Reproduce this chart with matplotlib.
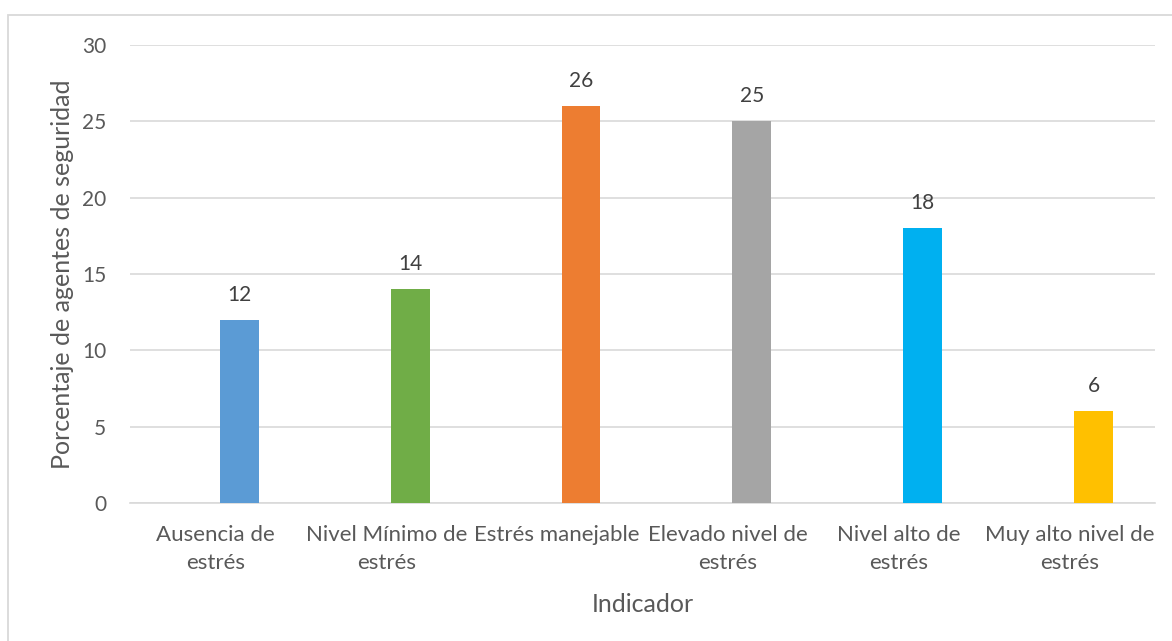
import matplotlib.pyplot as plt
import matplotlib.patches as patches

plt.rcParams['font.family'] = ['Lato', 'DejaVu Sans']

categorias = ['Ausencia de\nestrés', 'Nivel Mínimo de\nestrés', 'Estrés manejable',
              'Elevado nivel de\nestrés', 'Nivel alto de\nestrés', 'Muy alto nivel de\nestrés']
valores = [12, 14, 26, 25, 18, 6]
colores = ['#5B9BD5', '#70AD47', '#ED7D31', '#A5A5A5', '#00B0F0', '#FFC000']
yticks = [0, 5, 10, 15, 20, 25, 30]

texto = '#595959'
rejilla = '#D9D9D9'

fig = plt.figure(figsize=(11.72, 6.41), dpi=100)
ax = fig.add_axes([130 / 1172, 1 - 503 / 641, 1025 / 1172, 458 / 641])

# borde exterior del gráfico
fig.patches.append(patches.Rectangle((8 / 1172, -0.1), 1.2, 1 - 15 / 641 + 0.1,
                                     transform=fig.transFigure, fill=False,
                                     edgecolor='#D9D9D9', linewidth=1.3))

# las barras van algo desplazadas a la derecha del centro de la categoría (como en Excel)
desplazamiento = 0.14
x = list(range(len(categorias)))
xb = [xi + desplazamiento for xi in x]
ax.bar(xb, valores, width=0.228, color=colores, zorder=3)
for xi, v in zip(xb, valores):
    ax.annotate(str(v), (xi, v), xytext=(0, 11), textcoords='offset points',
                ha='center', va='bottom', fontsize=15, color='#404040')

ax.set_xlim(-0.5, len(categorias) - 0.5)
ax.set_ylim(0, 30)
ax.set_yticks(yticks)
ax.set_xticks(x)
ax.set_xticklabels(categorias, fontsize=16, color=texto, linespacing=1.5)
ax.tick_params(axis='y', labelsize=15, labelcolor=texto, length=0, pad=17)
ax.tick_params(axis='x', length=0, pad=16)
ax.grid(axis='y', color=rejilla, linewidth=1.2, zorder=0)
for s in ['top', 'right', 'left']:
    ax.spines[s].set_visible(False)
ax.spines['bottom'].set_color(rejilla)
ax.spines['bottom'].set_linewidth(1.2)

ax.set_ylabel('Porcentaje de agentes de seguridad', fontsize=18, color=texto, labelpad=6)
ax.set_xlabel('Indicador', fontsize=18, color=texto, labelpad=14)

plt.savefig('out.png', dpi=100)
